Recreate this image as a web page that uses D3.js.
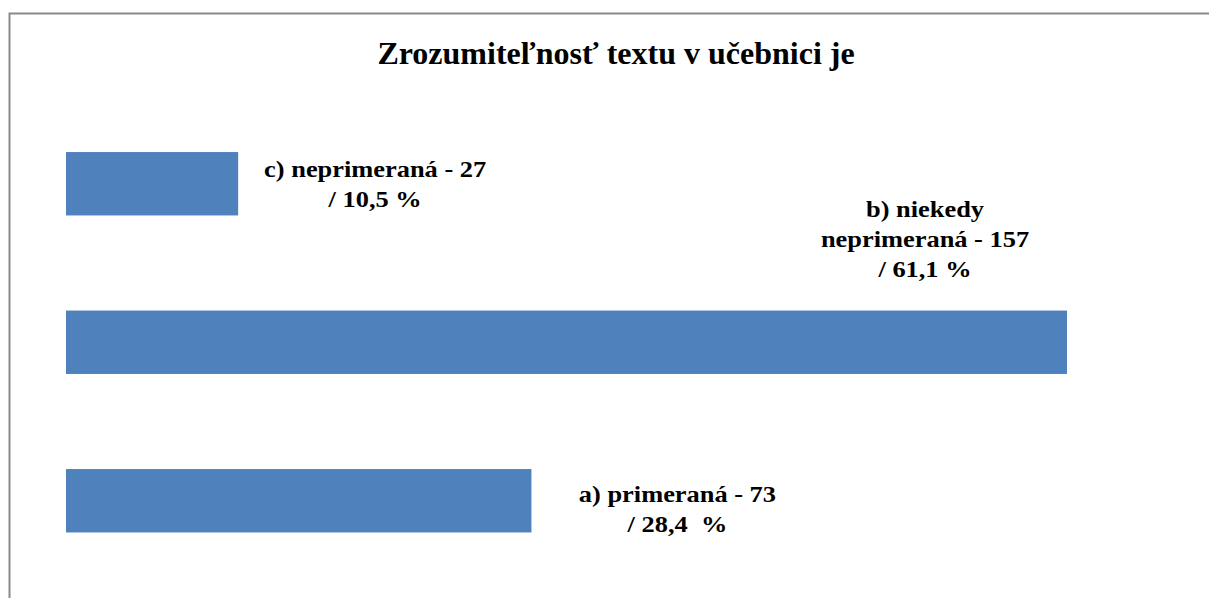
<!DOCTYPE html>
<html>
<head>
<meta charset="utf-8">
<script src="https://cdn.jsdelivr.net/npm/d3@7"></script>
<style>
  html, body { margin: 0; padding: 0; background: #fff; }
  svg { display: block; }
  svg text { font-family: "Liberation Serif", Tinos, "Times New Roman", Times, serif; }
</style>
</head>
<body>
<div id="chart"></div>
<script>
// data
const categories = ["c", "b", "a"];
const counts = [27, 157, 73];
const labelLines = [
    ["c) neprimeraná - 27", "/ 10,5 %"],
    ["b) niekedy", "neprimeraná - 157", "/ 61,1 %"],
    ["a) primeraná - 73", "/ 28,4  %"]
];
const title = "Zrozumiteľnosť textu v učebnici je";

const width = 1209, height = 598;

// label placement relative to bar end (dx = center offset, dy = first line offset from bar top)
const labelPos = [
    { dx: 137, dy: 25 },
    { dx: -142, dy: -94 },
    { dx: 146, dy: 33 }
];

const svg = d3.select("#chart")
    .append("svg")
    .attr("width", width)
    .attr("height", height);

// frame
svg.append("path")
    .attr("d", `M9.5,${height} V13.5 H${width}`)
    .attr("fill", "none")
    .attr("stroke", "#8a8a8a")
    .attr("stroke-width", 2);

svg.append("text")
    .attr("x", 616)
    .attr("y", 64)
    .attr("text-anchor", "middle")
    .style("font-weight", "bold")
    .style("font-size", "32px")
    .text(title);

const x = d3.scaleLinear().domain([0, 157]).range([66, 1067]);
const y = d3.scaleBand()
    .domain(categories)
    .range([104.5, 580])
    .paddingInner(0.6)
    .paddingOuter(0.3);

const data = categories.map((c, i) => ({ cat: c, value: counts[i], lines: labelLines[i], pos: labelPos[i] }));

svg.selectAll("rect.bar")
    .data(data)
    .join("rect")
    .attr("class", "bar")
    .attr("x", x(0))
    .attr("y", (d) => y(d.cat))
    .attr("width", (d) => x(d.value) - x(0))
    .attr("height", y.bandwidth())
    .attr("fill", "#4f81bd");

data.forEach((d) => {
    const cx = x(d.value) + d.pos.dx;
    const t = svg.append("text")
        .attr("text-anchor", "middle")
        .attr("transform", `translate(${cx},0) scale(1.1,1)`)
        .style("font-weight", "bold")
        .style("font-size", "24px")
        .attr("fill", "#000");
    d.lines.forEach((line, j) => {
        t.append("tspan")
            .attr("x", 0)
            .attr("y", y(d.cat) + d.pos.dy + j * 30)
            .style("white-space", "pre")
            .text(line);
    });
});
</script>
</body>
</html>
